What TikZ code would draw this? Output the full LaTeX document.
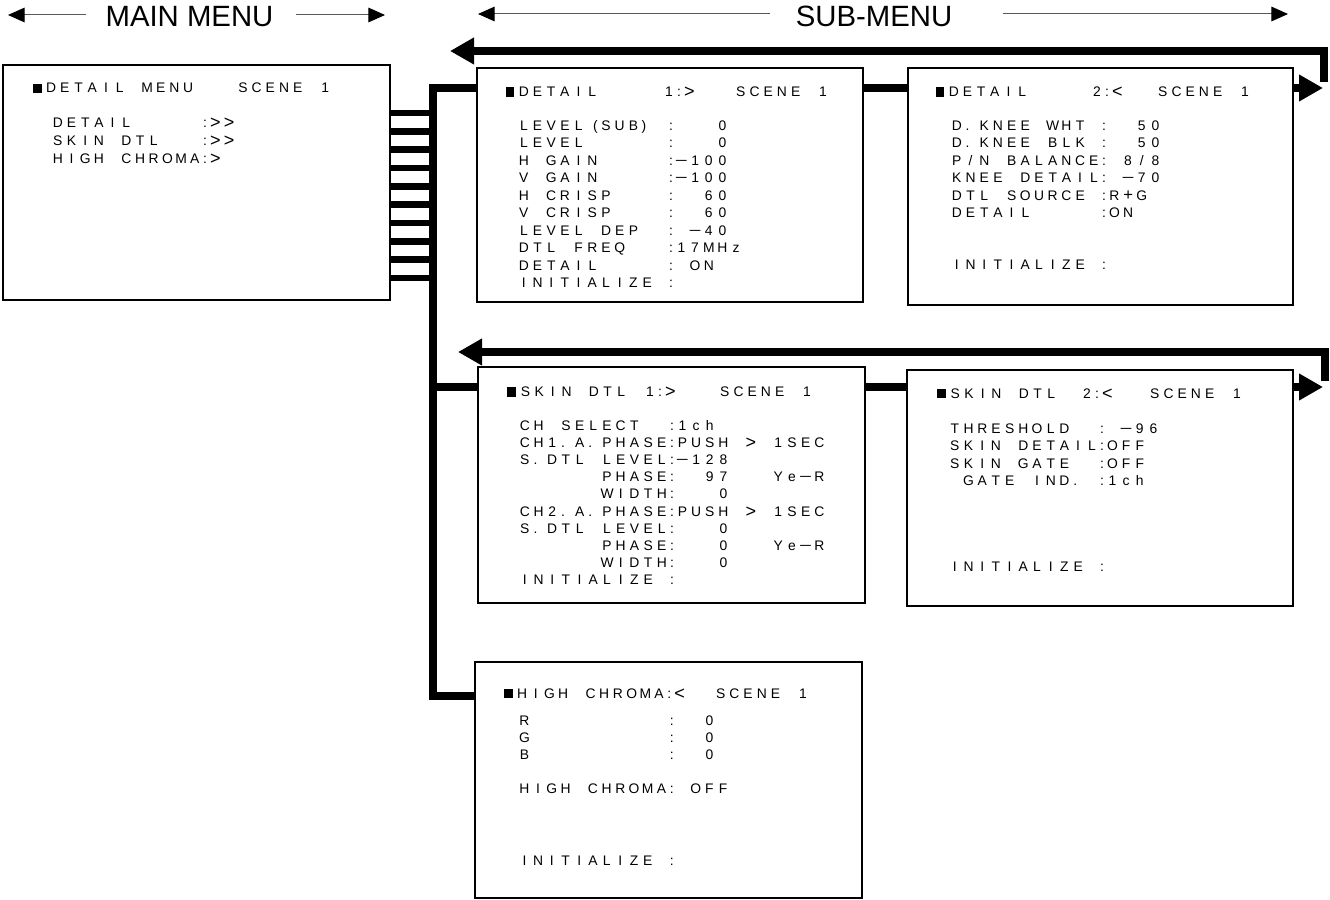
\documentclass[tikz,border=0pt]{standalone}
\usepackage{fontspec}
\usepackage{graphicx}
\setmainfont{Liberation Sans}
\newfontfamily\osdfont{Liberation Sans}
\usetikzlibrary{arrows.meta}
\newlength\cw
\setlength\cw{10.275pt}
\def\sq{\rule{6.4pt}{7pt}}
\def\monoEnd{MONOEND}
\def\mono#1{\monoA#1\monoEnd}
\def\monoA#1{\ifx#1\monoEnd\else\monoC#1\expandafter\monoA\fi}
\def\monoC#1{%
  \ifx#1:\makebox[0.5\cw][c]{:}%
  \else\ifx#1.\makebox[\cw][l]{\hspace*{1.5pt}.}%
  \else\ifx#1~\hspace*{\cw}%
  \else\ifx#1(\makebox[\cw][r]{(\hspace*{1pt}}%
  \else\ifx#1)\makebox[\cw][l]{\hspace*{1pt})}%
  \else\ifx#1−\makebox[\cw][c]{\scalebox{1.6}[1]{−}}%
  \else\ifx#1>\makebox[\cw][c]{\raisebox{-0.9pt}{\scalebox{1.3}{>}}}%
  \else\ifx#1<\makebox[\cw][c]{\raisebox{-0.9pt}{\scalebox{1.3}{<}}}%
  \else\ifx#1+\makebox[\cw][c]{\raisebox{-0.5pt}{\scalebox{1.2}{+}}}%
  \else\makebox[\cw][c]{#1}%
  \fi\fi\fi\fi\fi\fi\fi\fi\fi}
\newcommand\seg[4]{\node[osd] (#1) at (#2,#3) {\mono{#4}};}
\tikzset{
  osd/.style={font=\osdfont\fontsize{10.4pt}{12pt}\selectfont, inner sep=0pt, outer sep=0pt, anchor=base west},
  box/.style={draw=black, line width=0.8pt, inner sep=0pt, outer sep=0pt, anchor=north west},
  bus/.style={line width=6pt},
  rung/.style={line width=5pt},
  bigtip/.style={-{Triangle[length=18pt,width=19pt]}},
  harrow/.style={draw=black!65, line width=0.75pt, -{Triangle[length=12.5pt,width=11pt,color=black]}},
  hdr/.style={font=\fontsize{22pt}{26pt}\selectfont, inner sep=0pt, outer sep=0pt, anchor=base}
}
\begin{document}
\begin{tikzpicture}[x=0.75pt,y=-0.75pt]
\useasboundingbox (0,0) rectangle (1330,899);

% headers
\node[hdr] (mmh) at (189.5,27) {MAIN MENU};
\node[hdr] (smh) at (874,27) {SUB-MENU};
\coordinate (hL1) at (8,15);
\coordinate (hR1) at (385,15);
\coordinate (hL2) at (478,14);
\coordinate (hR2) at (1288,14);
\draw[harrow, shorten <=15pt] (mmh.west |- hL1) -- (hL1);
\draw[harrow, shorten <=17pt] (mmh.east |- hR1) -- (hR1);
\draw[harrow, shorten <=19.5pt] (smh.west |- hL2) -- (hL2);
\draw[harrow, shorten <=38pt] (smh.east |- hR2) -- (hR2);

% boxes
\node[box, minimum width=387*0.75pt, minimum height=235*0.75pt] (mm) at (3,65) {};
\node[box, minimum width=386*0.75pt, minimum height=234*0.75pt] (d1) at (477,68) {};
\node[box, minimum width=385*0.75pt, minimum height=237*0.75pt] (d2) at (908,68) {};
\node[box, minimum width=387*0.75pt, minimum height=236*0.75pt] (s1) at (478,367) {};
\node[box, minimum width=386*0.75pt, minimum height=236*0.75pt] (s2) at (907,370) {};
\node[box, minimum width=387*0.75pt, minimum height=236*0.75pt] (hc) at (475,662) {};

% bus and rungs
\coordinate (bTop) at (433,88);
\coordinate (bS1) at (433,387);
\coordinate (bBot) at (433,696);
\draw[bus] (d1.west |- bTop) -- (bTop) -- (bBot) -- (hc.west |- bBot);
\draw[bus] (bS1) -- (s1.west |- bS1);
\foreach \i in {0,...,9} {
  \draw[rung] (mm.east |- 0,{113+18.33*\i}) -- (bTop |- 0,{113+18.33*\i});
}

% first row links
\draw[bus] (d1.east |- bTop) -- (d2.west |- bTop);
\coordinate (tR1) at (1323,88);
\draw[bus, bigtip] (d2.east |- tR1) -- (tR1);
\coordinate (r1a) at (1324,82);
\coordinate (r1b) at (1324,51);
\coordinate (tL1) at (450,51);
\draw[bus, bigtip] (r1a) -- (r1b) -- (tL1);

% second row links
\draw[bus] (s1.east |- bS1) -- (s2.west |- bS1);
\coordinate (tR2) at (1323,387);
\draw[bus, bigtip] (s2.east |- tR2) -- (tR2);
\coordinate (r2a) at (1324.5,381);
\coordinate (r2b) at (1324.5,352);
\coordinate (tL2) at (458,352);
\draw[bus, bigtip] (r2a) -- (r2b) -- (tL2);

% main menu text
\seg{mmT}{30.6}{93}{\sq DETAIL~MENU~~~SCENE~1}
\seg{mmR1}{51}{127}{DETAIL~~~~~:>>}
\seg{mmR2}{51}{145}{SKIN~DTL~~~:>>}
\seg{mmR3}{51}{163}{HIGH~CHROMA:>}

% detail 1
\seg{d1Ta}{503.2}{96.7}{\sq DETAIL}
\seg{d1Tb}{662}{96.7}{1:>}
\seg{d1Tc}{734}{96.7}{SCENE~1}
\seg{d1R1}{517}{130}{LEVEL(SUB)~:~~~0}
\seg{d1R2}{517}{147.5}{LEVEL~~~~~~:~~~0}
\seg{d1R3}{517}{165}{H~GAIN~~~~~:−100}
\seg{d1R4}{517}{182.5}{V~GAIN~~~~~:−100}
\seg{d1R5}{517}{200}{H~CRISP~~~~:~~60}
\seg{d1R6}{517}{217.5}{V~CRISP~~~~:~~60}
\seg{d1R7}{517}{235}{LEVEL~DEP~~:~−40}
\seg{d1R8}{517}{252.5}{DTL~FREQ~~~:17MHz}
\seg{d1R9}{517}{270}{DETAIL~~~~~:~ON}
\seg{d1R10}{517}{287.5}{INITIALIZE~:}

% detail 2
\seg{d2Ta}{933.2}{96.7}{\sq DETAIL}
\seg{d2Tb}{1090}{96.7}{2:<}
\seg{d2Tc}{1156}{96.7}{SCENE~1}
\seg{d2R1}{950}{130}{D.KNEE~WHT~:~~50}
\seg{d2R2}{950}{147.5}{D.KNEE~BLK~:~~50}
\seg{d2R3}{950}{165}{P/N~BALANCE:~8/8}
\seg{d2R4}{950}{182.5}{KNEE~DETAIL:~−70}
\seg{d2R5}{950}{200}{DTL~SOURCE~:R+G}
\seg{d2R6}{950}{217.5}{DETAIL~~~~~:ON}
\seg{d2R7}{950}{269}{INITIALIZE~:}

% skin dtl 1
\seg{s1Ta}{504.9}{396.7}{\sq SKIN~DTL}
\seg{s1Tb}{643}{396.7}{1:>}
\seg{s1Tc}{718}{396.7}{SCENE~1}
\seg{s1R1}{518}{430}{CH~SELECT~~:1ch}
\seg{s1R2}{518}{447.2}{CH1.A.PHASE:PUSH~>~1SEC}
\seg{s1R3}{518}{464.4}{S.DTL~LEVEL:−128}
\seg{s1R4}{518}{481.6}{~~~~~~PHASE:~~97~~~Ye−R}
\seg{s1R5}{518}{498.8}{~~~~~~WIDTH:~~~0}
\seg{s1R6}{518}{516}{CH2.A.PHASE:PUSH~>~1SEC}
\seg{s1R7}{518}{533.2}{S.DTL~LEVEL:~~~0}
\seg{s1R8}{518}{550.4}{~~~~~~PHASE:~~~0~~~Ye−R}
\seg{s1R9}{518}{567.6}{~~~~~~WIDTH:~~~0}
\seg{s1R10}{518}{584.8}{INITIALIZE~:}

% skin dtl 2
\seg{s2Ta}{934.8}{398}{\sq SKIN~DTL}
\seg{s2Tb}{1080}{398}{2:<}
\seg{s2Tc}{1148}{398}{SCENE~1}
\seg{s2R1}{948}{433}{THRESHOLD~~:~−96}
\seg{s2R2}{948}{450.5}{SKIN~DETAIL:OFF}
\seg{s2R3}{948}{468}{SKIN~GATE~~:OFF}
\seg{s2R4}{948}{485.5}{~GATE~IND.~:1ch}
\seg{s2R5}{948}{571.5}{INITIALIZE~:}

% high chroma
\seg{hcT}{501.5}{698}{\sq HIGH~CHROMA:<~~SCENE~1}
\seg{hcR1}{517.6}{725}{R~~~~~~~~~~:~~0}
\seg{hcR2}{517.6}{742}{G~~~~~~~~~~:~~0}
\seg{hcR3}{517.6}{759}{B~~~~~~~~~~:~~0}
\seg{hcR4}{517.6}{793}{HIGH~CHROMA:~OFF}
\seg{hcR5}{517.6}{865}{INITIALIZE~:}
\end{tikzpicture}
\end{document}
